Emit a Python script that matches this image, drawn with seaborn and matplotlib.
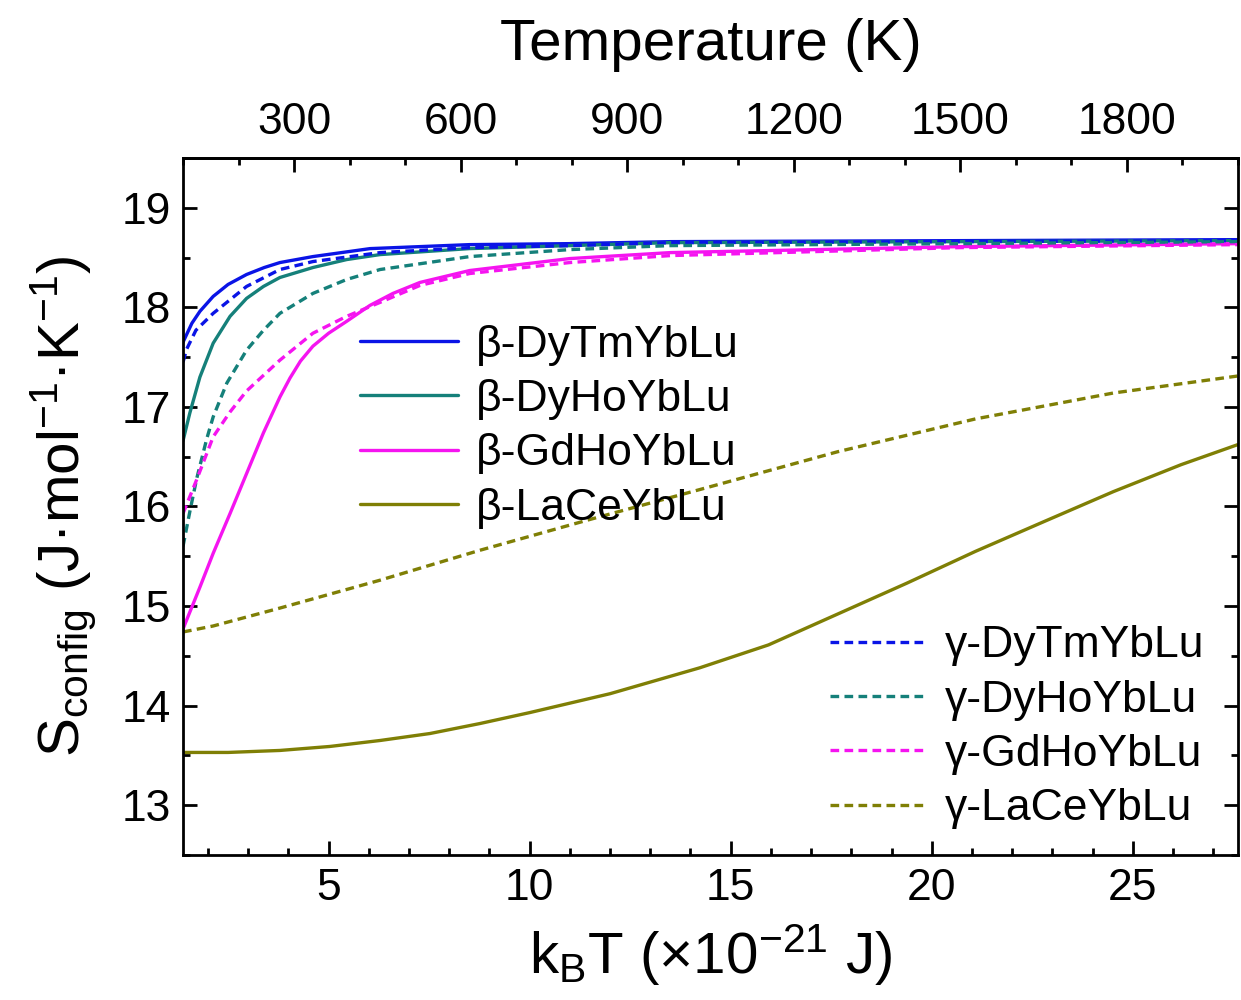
import matplotlib
matplotlib.use("Agg")
import matplotlib.pyplot as plt
import numpy as np
import pandas as pd
import seaborn as sns
from matplotlib.ticker import MultipleLocator, FixedLocator

# --- data ---
KB = 0.01380649  # kB in 1e-21 J/K

labels_beta = ["β-DyTmYbLu", "β-DyHoYbLu", "β-GdHoYbLu", "β-LaCeYbLu"]
labels_gamma = ["γ-DyTmYbLu", "γ-DyHoYbLu", "γ-GdHoYbLu", "γ-LaCeYbLu"]
colors = ["#0a14e6", "#15807a", "#f514f0", "#7f7f05"]

x_dytm_b = [1.38, 1.6, 1.8, 2.13, 2.5, 2.96, 3.4, 3.79, 4.61, 6.03, 8.5, 11.0, 13.5, 20.7, 27.6]
y_dytm_b = [17.65, 17.84, 17.96, 18.11, 18.23, 18.33, 18.40, 18.45, 18.51, 18.59, 18.63, 18.64, 18.66, 18.67, 18.68]

x_dyho_b = [1.38, 1.55, 1.8, 2.13, 2.55, 2.96, 3.38, 3.79, 4.61, 5.45, 6.28, 8.5, 11.0, 13.5, 20.7, 27.6]
y_dyho_b = [16.66, 16.94, 17.30, 17.64, 17.91, 18.09, 18.21, 18.30, 18.40, 18.48, 18.53, 18.59, 18.62, 18.65, 18.66, 18.67]

x_gdho_b = [1.38, 1.8, 2.13, 2.55, 2.96, 3.38, 3.79, 4.04, 4.3, 4.61, 5.0, 5.45, 6.03, 6.6, 7.27, 8.51, 11.0, 13.5, 20.7, 27.6]
y_gdho_b = [14.77, 15.19, 15.53, 15.93, 16.33, 16.74, 17.10, 17.29, 17.46, 17.61, 17.74, 17.86, 18.02, 18.14, 18.25, 18.37, 18.49, 18.55, 18.61, 18.64]

x_lace_b = [1.38, 2.5, 3.79, 5.03, 6.28, 7.52, 8.76, 10.0, 12.0, 14.23, 15.94, 17.66, 19.38, 21.09, 22.8, 24.52, 26.2, 27.6]
y_lace_b = [13.53, 13.53, 13.55, 13.59, 13.65, 13.72, 13.82, 13.93, 14.12, 14.38, 14.61, 14.92, 15.23, 15.55, 15.85, 16.15, 16.42, 16.62]

x_dytm_g = [1.38, 1.47, 1.7, 2.13, 2.96, 3.79, 4.61, 6.28, 8.51, 11.0, 13.5, 20.7, 27.6]
y_dytm_g = [17.45, 17.58, 17.77, 17.94, 18.21, 18.38, 18.46, 18.55, 18.60, 18.62, 18.65, 18.66, 18.67]

x_dyho_g = [1.38, 1.55, 1.72, 1.97, 2.13, 2.47, 2.96, 3.38, 3.79, 4.61, 5.45, 6.28, 8.51, 11.0, 13.48, 20.7, 27.6]
y_dyho_g = [15.60, 15.95, 16.28, 16.68, 16.90, 17.24, 17.57, 17.77, 17.94, 18.14, 18.28, 18.38, 18.51, 18.58, 18.62, 18.64, 18.66]

x_gdho_g = [1.38, 1.72, 2.13, 2.55, 2.96, 3.79, 4.61, 5.45, 6.28, 7.27, 8.51, 11.0, 13.5, 20.7, 27.6]
y_gdho_g = [15.93, 16.27, 16.70, 16.95, 17.16, 17.47, 17.74, 17.91, 18.05, 18.22, 18.34, 18.45, 18.52, 18.60, 18.63]

x_lace_g = [1.38, 2.13, 3.79, 6.28, 8.76, 11.5, 14.23, 17.66, 21.09, 24.52, 27.6]
y_lace_g = [14.74, 14.80, 14.98, 15.26, 15.56, 15.87, 16.17, 16.55, 16.88, 17.14, 17.31]

x_beta = [x_dytm_b, x_dyho_b, x_gdho_b, x_lace_b]
y_beta = [y_dytm_b, y_dyho_b, y_gdho_b, y_lace_b]
x_gamma = [x_dytm_g, x_dyho_g, x_gdho_g, x_lace_g]
y_gamma = [y_dytm_g, y_dyho_g, y_gdho_g, y_lace_g]

x_ticks = [5, 10, 15, 20, 25]
y_ticks = [13, 14, 15, 16, 17, 18, 19]
t_ticks = [300, 600, 900, 1200, 1500, 1800]

# --- style ---
sns.set_theme(style="ticks")
plt.rcParams["font.family"] = ["Liberation Sans", "DejaVu Sans"]
plt.rcParams["mathtext.fontset"] = "custom"
plt.rcParams["mathtext.rm"] = "Liberation Sans"
plt.rcParams["mathtext.it"] = "Liberation Sans:italic"
plt.rcParams["mathtext.bf"] = "Liberation Sans:bold"
for key in ["text.color", "axes.labelcolor", "xtick.color", "ytick.color", "axes.edgecolor"]:
    plt.rcParams[key] = "black"

fig = plt.figure(figsize=(12.41, 10), dpi=100)
ax = fig.add_axes([0.1475, 0.145, 0.850, 0.697])

LW = 2.4
dash = (0, (2.6, 1.6))

beta_handles = []
for xs, ys, lab, c in zip(x_beta, y_beta, labels_beta, colors):
    df = pd.DataFrame({"x": xs, "y": ys})
    sns.lineplot(data=df, x="x", y="y", ax=ax, color=c, linewidth=LW, label=lab, legend=False)
    beta_handles.append(ax.lines[-1])

gamma_handles = []
for xs, ys, lab, c in zip(x_gamma, y_gamma, labels_gamma, colors):
    df = pd.DataFrame({"x": xs, "y": ys})
    sns.lineplot(data=df, x="x", y="y", ax=ax, color=c, linewidth=LW, linestyle=dash, label=lab, legend=False)
    gamma_handles.append(ax.lines[-1])

ax.set_xlim(100 * KB, 2000 * KB)
ax.set_ylim(12.5, 19.5)

ax.xaxis.set_major_locator(FixedLocator(x_ticks))
ax.xaxis.set_minor_locator(MultipleLocator(1))
ax.yaxis.set_major_locator(FixedLocator(y_ticks))
ax.yaxis.set_minor_locator(MultipleLocator(0.5))

ax.tick_params(axis="both", which="both", direction="in", width=2, colors="black",
               labelsize=32, top=False, right=True)
ax.tick_params(axis="both", which="major", length=10, pad=9)
ax.tick_params(axis="both", which="minor", length=5)
for sp in ax.spines.values():
    sp.set_linewidth(2)
    sp.set_color("black")

ax.set_xlabel(r"k$_{\mathrm{B}}$T (×10$^{\mathrm{-21}}$ J)", fontsize=42, labelpad=10)
ax.set_ylabel(r"S$_{\mathrm{config}}$ (J·mol$^{\mathrm{-1}}$·K$^{\mathrm{-1}}$)", fontsize=42, labelpad=17)

secax = ax.secondary_xaxis("top", functions=(lambda x: x / KB, lambda t: t * KB))
secax.xaxis.set_major_locator(FixedLocator(t_ticks))
secax.xaxis.set_minor_locator(MultipleLocator(100))
secax.tick_params(axis="x", which="both", direction="in", width=2, labelsize=32, colors="black")
secax.tick_params(axis="x", which="major", length=10, pad=11)
secax.tick_params(axis="x", which="minor", length=5)
secax.spines["top"].set_linewidth(2)
secax.set_xlabel("Temperature (K)", fontsize=42, labelpad=30)

leg_kw = dict(frameon=False, fontsize=32, handlelength=2.2, handletextpad=0.4,
              labelspacing=0.3, borderpad=0, borderaxespad=0)
leg1 = ax.legend(handles=beta_handles, labels=labels_beta, loc="upper left",
                 bbox_to_anchor=(0.168, 0.761), **leg_kw)
ax.add_artist(leg1)
ax.legend(handles=gamma_handles, labels=labels_gamma, loc="lower left",
          bbox_to_anchor=(0.613, 0.037), **leg_kw)

fig.savefig("out.png", dpi=100)
